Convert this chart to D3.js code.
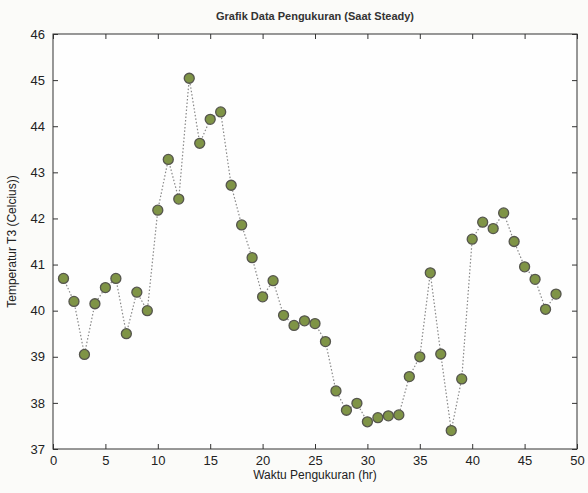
<!DOCTYPE html>
<html>
<head>
<meta charset="utf-8">
<script src="https://cdn.jsdelivr.net/npm/d3@7"></script>
<style>
  body { margin: 0; background: #fbfbf9; }
  svg { display: block; font-family: Arial, "Liberation Sans", sans-serif; }
</style>
</head>
<body>
<svg id="chart" width="588" height="493"></svg>
<script>
// Data
const hours = d3.range(1, 49);
const temps = [
  40.7, 40.2, 39.05, 40.15, 40.5, 40.7, 39.5, 40.4, 40.0, 42.18,
  43.28, 42.42, 45.04, 43.63, 44.15, 44.31, 42.72, 41.86, 41.15, 40.3,
  40.65, 39.9, 39.68, 39.78, 39.72, 39.33, 38.26, 37.84, 37.99, 37.59,
  37.68, 37.72, 37.74, 38.57, 39.0, 40.82, 39.06, 37.4, 38.52, 41.55,
  41.92, 41.78, 42.12, 41.5, 40.95, 40.68, 40.03, 40.36
];
const xTicks = [0, 5, 10, 15, 20, 25, 30, 35, 40, 45, 50];
const yTicks = [37, 38, 39, 40, 41, 42, 43, 44, 45, 46];

const svg = d3.select('#chart');
const margin = { top: 34, right: 11, bottom: 44, left: 53 };
const width = 588, height = 493;

const x = d3.scaleLinear().domain([0, 50]).range([margin.left, width - margin.right]);
const y = d3.scaleLinear().domain([37, 46]).range([height - margin.bottom, margin.top]);

const data = hours.map((h, i) => ({ h, t: temps[i] }));

// Plot box
svg.append('rect')
  .attr('x', margin.left).attr('y', margin.top)
  .attr('width', x(50) - x(0)).attr('height', y(37) - y(46))
  .attr('fill', '#fefefe').attr('stroke', '#333').attr('stroke-width', 1);

// Axes with inward ticks
const axisStyle = g => {
  g.select('.domain').remove();
  g.selectAll('.tick line').attr('stroke', '#333');
  g.selectAll('.tick text').attr('fill', '#222').attr('font-size', 13);
};

svg.append('g')
  .attr('transform', `translate(0,${y(37)})`)
  .call(d3.axisBottom(x).tickValues(xTicks).tickSizeInner(-5).tickSizeOuter(0).tickPadding(7))
  .call(axisStyle);

svg.append('g')
  .attr('transform', `translate(${x(0)},0)`)
  .call(d3.axisLeft(y).tickValues(yTicks).tickSizeInner(-5).tickSizeOuter(0).tickPadding(8))
  .call(axisStyle);

// Mirrored ticks on top and right
svg.append('g')
  .attr('transform', `translate(0,${y(46)})`)
  .call(d3.axisTop(x).tickValues(xTicks).tickSizeInner(-5).tickSizeOuter(0).tickFormat(''))
  .call(axisStyle);

svg.append('g')
  .attr('transform', `translate(${x(50)},0)`)
  .call(d3.axisRight(y).tickValues(yTicks).tickSizeInner(-5).tickSizeOuter(0).tickFormat(''))
  .call(axisStyle);

// Dotted line
const line = d3.line().x(d => x(d.h)).y(d => y(d.t));
svg.append('path')
  .datum(data)
  .attr('d', line)
  .attr('fill', 'none')
  .attr('stroke', '#888')
  .attr('stroke-width', 1.2)
  .attr('stroke-dasharray', '1.5,2');

// Markers
svg.selectAll('.pt')
  .data(data)
  .enter()
  .append('circle')
  .attr('class', 'pt')
  .attr('cx', d => x(d.h))
  .attr('cy', d => y(d.t))
  .attr('r', 5)
  .attr('fill', '#7f9446')
  .attr('stroke', '#55554d')
  .attr('stroke-width', 1.3);

// Title and labels
svg.append('text')
  .attr('x', (x(0) + x(50)) / 2).attr('y', 20)
  .attr('text-anchor', 'middle')
  .attr('font-size', 11).attr('font-weight', 'bold').attr('fill', '#333')
  .text('Grafik Data Pengukuran (Saat Steady)');

svg.append('text')
  .attr('x', (x(0) + x(50)) / 2).attr('y', 479)
  .attr('text-anchor', 'middle')
  .attr('font-size', 12).attr('fill', '#222')
  .text('Waktu Pengukuran (hr)');

svg.append('text')
  .attr('transform', 'rotate(-90)')
  .attr('x', -(y(37) + y(46)) / 2).attr('y', 16)
  .attr('text-anchor', 'middle')
  .attr('font-size', 12).attr('fill', '#222')
  .text('Temperatur T3 (Celcius))');
</script>
</body>
</html>
